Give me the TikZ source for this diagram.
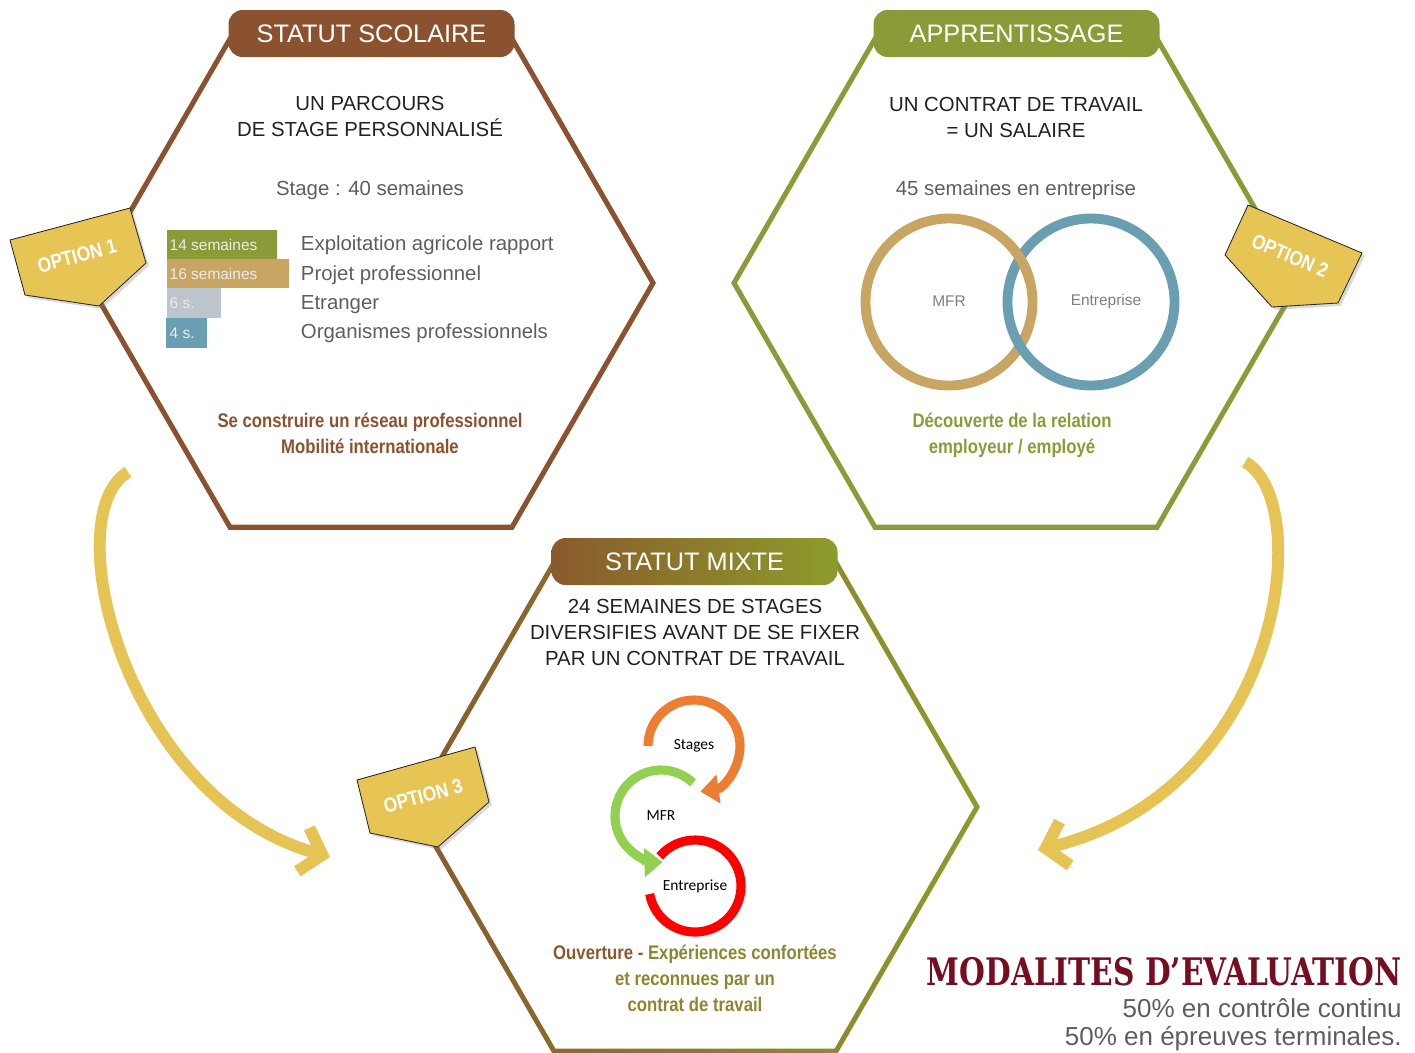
\documentclass[tikz,border=0pt]{standalone}
\usepackage{fontspec}
\setmainfont{Liberation Sans}
\newfontfamily\condfont[FakeStretch=0.85]{Liberation Sans}
\newfontfamily\calfont{Carlito}
\newfontfamily\slabfont{DejaVu Serif}
\usetikzlibrary{arrows.meta,shadows}

\definecolor{scolbrown}{HTML}{8B5230}
\definecolor{apgreen}{HTML}{8A9B38}
\definecolor{mixbrown}{HTML}{8A5A2C}
\definecolor{mixolive}{HTML}{8C9C2C}
\definecolor{mixtext}{HTML}{8E8530}
\definecolor{badgegold}{HTML}{E6C555}
\definecolor{arrowgold}{HTML}{E5C354}
\definecolor{venntan}{HTML}{C8A562}
\definecolor{vennteal}{HTML}{6A9FB2}
\definecolor{bargrey}{HTML}{BCC4CC}
\definecolor{txtgrey}{HTML}{5E5E5E}
\definecolor{txtdark}{HTML}{222222}
\definecolor{evalred}{HTML}{760E22}
\definecolor{cycorange}{HTML}{ED7D31}
\definecolor{cycgreen}{HTML}{92D050}
\definecolor{cycred}{HTML}{FF0000}

\begin{document}
\begin{tikzpicture}[x=0.25mm, y=-0.25mm,
		titlebar/.style={rounded corners=10pt, minimum width=71.5mm, minimum height=11.75mm, inner sep=0pt, text=white, font=\fontsize{18}{20}\selectfont},
		badge/.style={fill=badgegold, draw=black!85, line width=0.6pt, drop shadow={opacity=0.3, shadow xshift=2pt, shadow yshift=-2pt}},
		opttext/.style={text=white, inner sep=0pt, font=\condfont\bfseries\fontsize{14.5}{15}\selectfont},
		head/.style={text=txtdark, align=center, font=\fontsize{14.5}{18.5}\selectfont},
		hint/.style={text=txtgrey, font=\fontsize{14.5}{18}\selectfont},
		bartxt/.style={text=white!92!black, anchor=west, inner sep=1pt, font=\fontsize{11}{12}\selectfont},
		slogan/.style={align=center, font=\condfont\bfseries\fontsize{14}{18.5}\selectfont},
		venntxt/.style={text=txtgrey!80, font=\fontsize{11}{12}\selectfont},
		cyctxt/.style={font=\calfont\fontsize{11}{12}\selectfont},
		cyc/.style={line width=6.5pt},
		bigarrow/.style={line width=8.5pt, arrowgold, -{Straight Barb[length=14pt,width=32pt]},
			preaction={draw=black, opacity=0.2, transform canvas={shift={(2pt,-2pt)}}}}]
	\useasboundingbox (0,0) rectangle (1415,1052);

	% hexagons
	\begin{scope}[shift={(371,283)}]
		\draw[scolbrown, line width=3.6pt] (0:282) \foreach \a in {60,120,...,300}{ -- (\a:282)} -- cycle;
	\end{scope}
	\begin{scope}[shift={(1016,283)}]
		\draw[apgreen, line width=3.6pt] (0:282) \foreach \a in {60,120,...,300}{ -- (\a:282)} -- cycle;
	\end{scope}
	\begin{scope}[shift={(695,807)}]
		\shade[even odd rule, left color=mixbrown, right color=mixolive]
			(0:284.9) \foreach \a in {60,120,...,300}{ -- (\a:284.9)} -- cycle
			(0:279.1) \foreach \a in {60,120,...,300}{ -- (\a:279.1)} -- cycle;
	\end{scope}

	% titles
	\node[titlebar, fill=scolbrown] (scol) at (371.5,33.5) {STATUT SCOLAIRE};
	\node[titlebar, fill=apgreen] (appr) at (1016.5,33.5) {APPRENTISSAGE};
	\node[titlebar, left color=mixbrown, right color=mixolive] (mixte) at (694.5,561.5) {STATUT MIXTE};

	% statut scolaire
	\node[head] (parcours) at (370,116) {UN PARCOURS\\DE STAGE PERSONNALIS\'E};
	\node[hint] (stage40) at (370,190) {Stage : 40 semaines};
	\fill[apgreen] (167,230) rectangle (277,259);
	\fill[venntan] (167,259) rectangle (289,288);
	\fill[bargrey] (167,288) rectangle (221,318);
	\fill[vennteal] (166,318) rectangle (207,348);
	\node[bartxt] (b14) at (168,245) {14 semaines};
	\node[bartxt] (b16) at (168,274) {16 semaines};
	\node[bartxt] (b6) at (168,303) {6 s.};
	\node[bartxt] (b4) at (168,333) {4 s.};
	\node[hint, anchor=west] (exploit) at (296,245) {Exploitation agricole rapport};
	\node[hint, anchor=west] (projet) at (296,275) {Projet professionnel};
	\node[hint, anchor=west] (etranger) at (296,305) {Etranger};
	\node[hint, anchor=west] (organ) at (296,333) {Organismes professionnels};
	\node[slogan, text=scolbrown] (reseau) at (370,433) {Se construire un r\'eseau professionnel\\Mobilit\'e internationale};

	% apprentissage
	\node[head] (contrat) at (1016,117) {UN CONTRAT DE TRAVAIL\\= UN SALAIRE};
	\node[hint] (sem45) at (1016,190) {45 semaines en entreprise};
	\coordinate (cmfr) at (949,302);
	\coordinate (cent) at (1091,302);
	\draw[venntan, line width=7pt] (cmfr) circle[radius=83.5];
	\draw[vennteal, line width=7pt] (cent) circle[radius=83.5];
	\draw[venntan, line width=7pt] (cmfr) ++(-15:83.5) arc[start angle=-15, end angle=-45, radius=83.5];
	\node[venntxt] (mfr) at (949,301) {MFR};
	\node[venntxt] (entr) at (1106,301) {Entreprise};
	\node[slogan, text=apgreen] (decouv) at (1012,435) {D\'ecouverte de la relation\\employeur / employ\'e};

	% statut mixte
	\node[head] (sem24) at (695,632) {24 SEMAINES DE STAGES\\DIVERSIFIES AVANT DE SE FIXER\\PAR UN CONTRAT DE TRAVAIL};
	\node[cyctxt] (stg) at (694,746) {Stages};
	\node[cyctxt] (cmf) at (661,816) {MFR};
	\node[cyctxt] (cen) at (695,886) {Entreprise};
	\draw[cyc, cycorange, -{Triangle[length=13pt,width=20pt]}] (stg.center) ++(-180:46) arc[start angle=-180, end angle=82, radius=46];
	\draw[cyc, cycgreen, -{Triangle[length=13pt,width=20pt]}] (cmf.center) ++(-46:46) arc[start angle=-46, end angle=-272, radius=46];
	\draw[cyc, cycred] (cen.center) ++(-140:46) arc[start angle=-140, end angle=170, radius=46];
	\node[slogan, text=mixtext] (ouvert) at (695,978) {\textcolor{mixbrown}{Ouverture -} Exp\'eriences confort\'ees\\et reconnues par un\\contrat de travail};

	% options
	\filldraw[badge] (10,240) -- (130,208) -- (146,263) -- (99,306) -- (25,295) -- cycle;
	\node[opttext, rotate=15] (opt1) at (77,256) {OPTION 1};
	\filldraw[badge] (1225,255) -- (1248,205) -- (1362,253) -- (1338,303) -- (1272,307) -- cycle;
	\node[opttext, rotate=-23] (opt2) at (1290,256) {OPTION 2};
	\filldraw[badge] (357,780) -- (475,747) -- (489,802) -- (438,847) -- (370,833) -- cycle;
	\node[opttext, rotate=15] (opt3) at (423,796) {OPTION 3};

	% arrows
	\coordinate (left0) at (128,472);
	\coordinate (left1) at (330,857);
	\coordinate (right0) at (1245,462);
	\coordinate (right1) at (1038,850);
	\draw[bigarrow] (left0) .. controls (55,515) and (125,800) .. (left1);
	\draw[bigarrow] (right0) .. controls (1315,500) and (1285,790) .. (right1);

	% evaluation
	\node[anchor=south east, inner sep=0pt, text=evalred] (modal) at (1402,986) {\resizebox{337.9pt}{20pt}{\slabfont\bfseries MODALITES D\textquoteright EVALUATION}};
	\node[anchor=base east, inner sep=0pt, text=txtgrey, font=\fontsize{18.5}{22}\selectfont] (cc) at (1402,1017) {50\% en contr\^ole continu};
	\node[anchor=base east, inner sep=0pt, text=txtgrey, font=\fontsize{18.5}{22}\selectfont] (term) at (1402,1045) {50\% en \'epreuves terminales.};
\end{tikzpicture}
\end{document}
